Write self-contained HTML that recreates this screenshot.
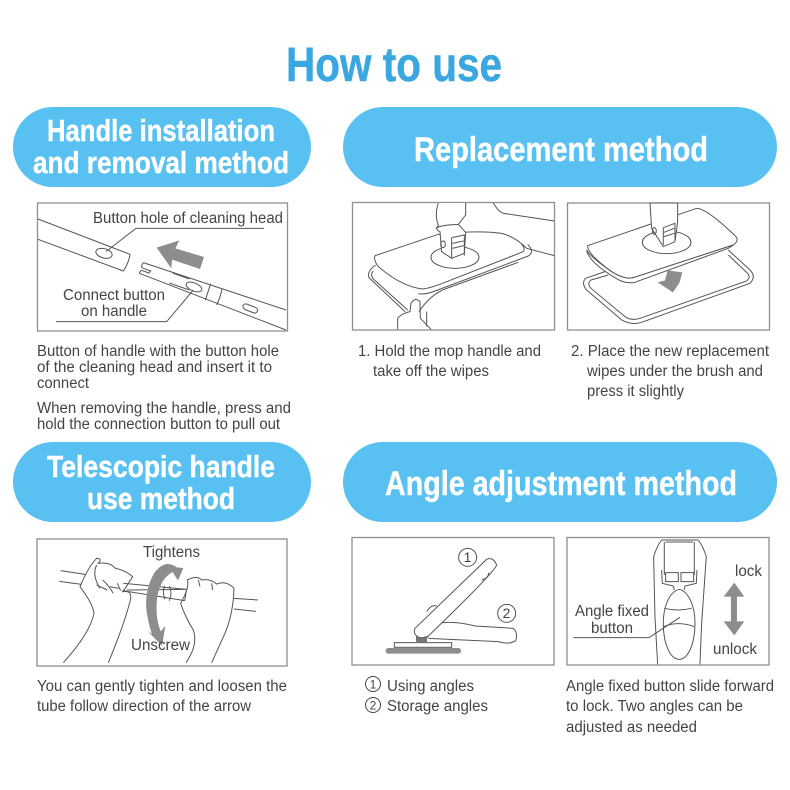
<!DOCTYPE html>
<html>
<head>
<meta charset="utf-8">
<style>
html,body{margin:0;padding:0;background:#fff;width:790px;height:790px;overflow:hidden}
svg{display:block}
text{font-family:"Liberation Sans","Noto Sans CJK SC",sans-serif}
.t{font-size:15.5px;fill:#444}
.h{font-weight:bold;fill:#fff;font-size:31px;stroke:#fff;stroke-width:.4}
.d path,.d line,.d ellipse,.d rect.o{fill:none;stroke:#555;stroke-width:3}
.d path.g,.g{fill:#8d8d8d !important;stroke:none !important}
.d .w{fill:#fff !important}
.f{fill:none;stroke:#8f8f8f;stroke-width:1.3}
</style>
</head>
<body>
<svg width="790" height="790" viewBox="0 0 790 790" xmlns="http://www.w3.org/2000/svg">
<rect width="790" height="790" fill="#fff"/>
<text x="286" y="81" font-size="48" font-weight="bold" fill="#3ba7e0" stroke="#3ba7e0" stroke-width=".5" textLength="216" lengthAdjust="spacingAndGlyphs">How to use</text>

<rect x="13" y="107" width="298" height="80" rx="40" fill="#58c1f2"/>
<rect x="343" y="107" width="434" height="80" rx="40" fill="#58c1f2"/>
<rect x="13" y="442" width="298" height="80" rx="40" fill="#58c1f2"/>
<rect x="343" y="442" width="434" height="80" rx="40" fill="#58c1f2"/>
<text class="h" x="47" y="141" textLength="228" lengthAdjust="spacingAndGlyphs">Handle installation</text>
<text class="h" x="33" y="173" textLength="256" lengthAdjust="spacingAndGlyphs">and removal method</text>
<text class="h" x="414" y="161" style="font-size:34px" textLength="294" lengthAdjust="spacingAndGlyphs">Replacement method</text>
<text class="h" x="47" y="477" textLength="228" lengthAdjust="spacingAndGlyphs">Telescopic handle</text>
<text class="h" x="87" y="509" textLength="148" lengthAdjust="spacingAndGlyphs">use method</text>
<text class="h" x="385" y="495" style="font-size:34px" textLength="352" lengthAdjust="spacingAndGlyphs">Angle adjustment method</text>

<rect class="f" x="37.5" y="203" width="250" height="128"/>
<rect class="f" x="352.5" y="202.5" width="202" height="127.5"/>
<rect class="f" x="567.5" y="203" width="202" height="127"/>
<rect class="f" x="37" y="539" width="250" height="127"/>
<rect class="f" x="352" y="537.5" width="202" height="127.5"/>
<rect class="f" x="567" y="537.5" width="202" height="127.5"/>

<!-- Panel 1 -->
<g class="d" transform="translate(30,195) scale(.3333)">
<path d="M24 72L300 178Q296 205 280 228L24 133"/>
<ellipse cx="222" cy="175" rx="25" ry="14" transform="rotate(15 222 175)"/>
<path d="M228 170L318 100H702"/>
<path class="g" d="M380 158L448 136L436 160L522 186L510 222L426 194L424 220Z"/>
<path d="M340 203L768 345M328 235L768 405"/>
<path d="M340 203Q334 210 335 218L362 228L356 234L335 226Q328 230 328 235"/>
<path d="M428 234L478 252M418 264L478 285"/>
<ellipse cx="492" cy="276" rx="25" ry="12" transform="rotate(22 492 276)"/>
<path d="M542 266Q534 290 526 316M576 282Q572 305 560 330"/>
<rect class="o" x="638" y="332" rx="9" width="46" height="17" transform="rotate(22 661 340)"/>
<path d="M490 285L410 380H78"/>
</g>
<text class="t" x="93" y="223" textLength="190" lengthAdjust="spacingAndGlyphs">Button hole of cleaning head</text>
<text class="t" x="63" y="300" textLength="102" lengthAdjust="spacingAndGlyphs">Connect button</text>
<text class="t" x="81" y="316" textLength="66" lengthAdjust="spacingAndGlyphs">on handle</text>

<!-- Panels 2, 3 -->
<g class="d" transform="translate(345,195) scale(.3333)">
<path d="M90 182L280 118M280 118Q400 105 470 115Q510 125 545 160L628 182M445 24Q460 50 475 55L628 78"/>
<path d="M90 182Q85 195 100 215Q170 275 232 282Q255 280 300 262L530 172Q545 165 530 148"/>
<path d="M92 210Q65 228 72 248L180 350M84 228Q75 240 85 252L188 345"/>
<path d="M220 296Q240 300 270 288L550 183Q570 170 548 148M222 350Q255 300 300 282L520 202"/>
<ellipse cx="330" cy="187" rx="72" ry="33"/>
<path class="w" d="M280 24Q268 60 280 90Q270 105 285 110L290 170L320 190L358 175L362 112L340 88L362 60V24"/>
<path d="M320 128L358 120V182M320 128V190M322 145L356 138M322 160L356 152"/>
<ellipse cx="294" cy="148" rx="7" ry="10"/>
<path d="M272 100Q285 90 340 88"/>
<path d="M158 403V370Q170 355 195 350L198 325Q210 305 225 320L226 370L258 403M245 350V395"/>

<path d="M780 230L722 250Q708 265 725 285L830 375Q860 392 890 382L1215 265Q1235 245 1215 225L1150 165"/>
<path d="M790 240L738 255Q725 265 738 280L840 365Q860 378 885 370L1205 258Q1220 245 1205 232L1150 180"/>
<path class="w" d="M728 152L1055 40Q1085 40 1170 122Q1185 135 1165 150L865 248Q840 255 800 230Q725 175 728 152Z"/>
<path class="w" d="M725 165Q730 200 810 248Q840 268 870 262L1150 160L1165 150L865 248Q840 255 800 230Q735 185 725 165Z"/>
<ellipse cx="965" cy="142" rx="73" ry="34"/>
<path class="w" d="M915 24L920 100L955 155L990 140L998 80V24Z"/>
<path d="M955 98L990 85V135M955 98V150M957 112L988 100M957 125L988 115"/>
<ellipse cx="928" cy="108" rx="6" ry="10"/>
<path class="g" d="M968 226L1012 232L1004 262L984 292L938 262L960 256Z"/>
</g>

<!-- Panel 4 -->
<g class="d" transform="translate(30,530) scale(.3333)">
<path d="M92 122L165 133M88 154L155 163M290 180L470 178M280 160L470 178M612 205L684 210M612 237L678 244"/>
<path d="M404 168Q396 185 405 208M418 168Q428 190 418 212M470 178L464 212M278 182L464 212"/>
<path d="M100 398Q180 310 192 250Q188 220 150 170Q175 110 200 85Q218 85 205 100Q240 95 256 115Q285 120 308 140L298 155Q290 170 278 185Q310 180 300 215Q280 290 235 398"/>
<path d="M200 105Q185 135 210 175M218 150Q235 165 250 190M200 165L232 180M240 170L266 175M262 160L272 182"/>
<path d="M468 398Q505 345 490 300Q465 260 452 220Q480 170 472 150Q500 135 515 150Q540 145 560 162Q590 150 612 175Q610 250 585 310L545 398"/>
<path d="M505 150L510 170M545 160L548 180"/>
<path class="g" d="M440 112Q405 85 372 130Q342 185 350 245Q356 285 366 312L352 302L396 348L406 288L392 304Q374 260 382 200Q392 145 428 126L444 152L460 114Z"/>
</g>
<text class="t" x="143" y="557" textLength="57" lengthAdjust="spacingAndGlyphs">Tightens</text>
<text class="t" x="131" y="650" textLength="59" lengthAdjust="spacingAndGlyphs">Unscrew</text>

<!-- Panel 5, 6 -->
<g class="d" transform="translate(345,530) scale(.3333)">
<ellipse cx="368" cy="82" rx="27" ry="27"/>
<ellipse cx="485" cy="250" rx="27" ry="27"/>
<path d="M215 335V310L250 322"/>
<path d="M270 282Q320 270 390 288L505 295Q520 310 512 332Q490 345 460 335L250 325"/>
<rect x="148" y="338" width="172" height="14" style="fill:#fff;stroke:#555;stroke-width:3"/>
<rect class="g" x="122" y="354" width="226" height="17" rx="8"/>
<rect x="216" y="322" width="30" height="16" style="fill:#777"/>
<path class="w" d="M210 295L425 88Q445 80 455 105Q450 125 250 318Q225 330 212 315Q205 305 210 295Z"/>
<path d="M410 150Q430 145 432 128M245 245Q258 222 275 228"/>

<path d="M950 30Q935 50 926 80L930 260L938 403M1060 30Q1075 50 1084 80L1070 280L1065 403"/>
<path d="M950 30H1060M958 36V135M1048 36V135M962 36H1044"/>
<path d="M962 128H1000V155H962ZM1008 128H1046V155H1008Z"/>
<path d="M950 120L952 160L985 168L988 180M1056 120L1054 160L1020 168L1018 180"/>
<path d="M1003 178C975 185 955 225 955 280C955 340 975 388 1003 388C1030 388 1050 340 1050 280C1050 225 1030 185 1003 178Z"/>
<path d="M958 235Q1000 245 1040 235M955 290Q1000 272 1048 290"/>
<path d="M685 323H912L1005 262"/>
<path class="g" d="M1168 158L1198 200H1176V274H1198L1168 316L1136 274H1158V200H1136Z"/>
</g>
<text class="t" x="575" y="616" textLength="74" lengthAdjust="spacingAndGlyphs">Angle fixed</text>
<text class="t" x="591" y="633" textLength="42" lengthAdjust="spacingAndGlyphs">button</text>
<text class="t" x="735" y="576" textLength="27" lengthAdjust="spacingAndGlyphs">lock</text>
<text class="t" x="713" y="654" textLength="44" lengthAdjust="spacingAndGlyphs">unlock</text>
<text x="467.5" y="562" font-size="14" fill="#444" text-anchor="middle">1</text>
<text x="506.5" y="618" font-size="14" fill="#444" text-anchor="middle">2</text>

<!-- Descriptions -->
<text class="t" x="37" y="356" textLength="242" lengthAdjust="spacingAndGlyphs">Button of handle with the button hole</text>
<text class="t" x="37" y="372" textLength="235" lengthAdjust="spacingAndGlyphs">of the cleaning head and insert it to</text>
<text class="t" x="37" y="388" textLength="52" lengthAdjust="spacingAndGlyphs">connect</text>
<text class="t" x="37" y="413" textLength="254" lengthAdjust="spacingAndGlyphs">When removing the handle, press and</text>
<text class="t" x="37" y="429" textLength="243" lengthAdjust="spacingAndGlyphs">hold the connection button to pull out</text>
<text class="t" x="358" y="356" textLength="183" lengthAdjust="spacingAndGlyphs">1. Hold the mop handle and</text>
<text class="t" x="373" y="376" textLength="116" lengthAdjust="spacingAndGlyphs">take off the wipes</text>
<text class="t" x="571" y="356" textLength="198" lengthAdjust="spacingAndGlyphs">2. Place the new replacement</text>
<text class="t" x="587" y="376" textLength="176" lengthAdjust="spacingAndGlyphs">wipes under the brush and</text>
<text class="t" x="587" y="396" textLength="97" lengthAdjust="spacingAndGlyphs">press it slightly</text>
<text class="t" x="37" y="691" textLength="250" lengthAdjust="spacingAndGlyphs">You can gently tighten and loosen the</text>
<text class="t" x="37" y="711" textLength="214" lengthAdjust="spacingAndGlyphs">tube follow direction of the arrow</text>
<circle cx="373" cy="684" r="7.5" fill="none" stroke="#444" stroke-width="1"/>
<circle cx="373" cy="705" r="7.5" fill="none" stroke="#444" stroke-width="1"/>
<text x="373" y="688.5" font-size="12" fill="#444" text-anchor="middle">1</text>
<text x="373" y="709.5" font-size="12" fill="#444" text-anchor="middle">2</text>
<text class="t" x="387" y="691" textLength="87" lengthAdjust="spacingAndGlyphs">Using angles</text>
<text class="t" x="387" y="711" textLength="101" lengthAdjust="spacingAndGlyphs">Storage angles</text>
<text class="t" x="566" y="691" textLength="208" lengthAdjust="spacingAndGlyphs">Angle fixed button slide forward</text>
<text class="t" x="566" y="711" textLength="177" lengthAdjust="spacingAndGlyphs">to lock. Two angles can be</text>
<text class="t" x="566" y="732" textLength="131" lengthAdjust="spacingAndGlyphs">adjusted as needed</text>
</svg>
</body>
</html>
